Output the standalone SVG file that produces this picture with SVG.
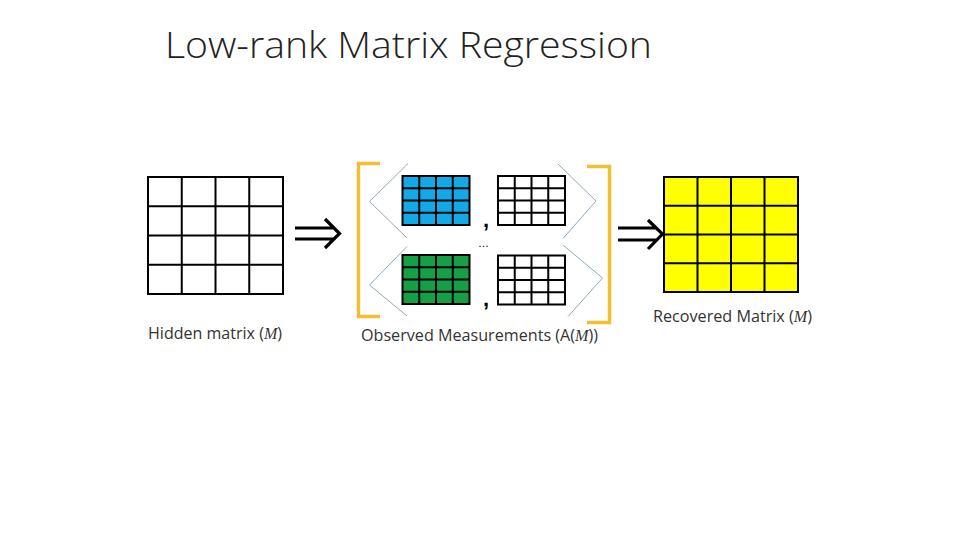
<svg xmlns="http://www.w3.org/2000/svg" xmlns:xlink="http://www.w3.org/1999/xlink" width="960" height="540" viewBox="0 0 960 540">
<style>
.grid{fill:none;stroke:#000;stroke-width:2}
.lbl{font-family:"Open Sans","Liberation Sans",sans-serif;font-size:16px;fill:#333}
.title{font-family:"Open Sans","Liberation Sans",sans-serif;font-size:36px;fill:#222;font-weight:300}
.brk{fill:none;stroke:#F0C030;stroke-width:3.5}
.ang{fill:none;stroke:#8FA8BF;stroke-width:1}
.arr{fill:none;stroke:#000;stroke-width:3.2}
.sym{font-family:"Liberation Sans",sans-serif;fill:#000}
</style>
<defs>
<path id="small" d="M0,0H67V49H0Z M16.75,0V49 M33.5,0V49 M50.25,0V49 M0,12.25H67 M0,24.5H67 M0,36.75H67"/>
</defs>
<rect width="960" height="540" fill="#fff"/>
<text class="title" x="165" y="58" textLength="487" lengthAdjust="spacingAndGlyphs">Low-rank Matrix Regression</text>

<g id="hidden">
<path class="grid" d="M148,177H283V294H148Z M181.75,177V294 M215.5,177V294 M249.25,177V294 M148,206.25H283 M148,235.5H283 M148,264.75H283"/>
<text class="lbl" x="148" y="339" textLength="134" lengthAdjust="spacingAndGlyphs">Hidden matrix (<tspan font-style="italic" font-family="Liberation Serif,serif">M</tspan>)</text>
</g>

<g id="observed">
<path class="brk" d="M380,163.5H358.5V316.5H380"/>
<path class="brk" d="M587,166.5H609.5V322.5H587"/>
<path class="ang" d="M408,163.5L369.5,201.5L407,238"/>
<path class="ang" d="M407,246.5L369.5,285L407,316"/>
<path class="ang" d="M558,164L596,201L563,238.5"/>
<path class="ang" d="M563,245L602.5,278L568,316.5"/>
<rect x="402.5" y="176" width="67" height="49" fill="#12AAE6"/>
<use xlink:href="#small" class="grid" x="402.5" y="176"/>
<rect x="402.5" y="255" width="67" height="49" fill="#16A046"/>
<use xlink:href="#small" class="grid" x="402.5" y="255"/>
<use xlink:href="#small" class="grid" x="498" y="176"/>
<use xlink:href="#small" class="grid" x="498" y="255.5"/>
<text class="sym" x="483" y="227" font-size="22" font-weight="bold">,</text>
<text class="sym" x="483" y="306" font-size="22" font-weight="bold">,</text>
<text class="sym" x="478" y="247" font-size="11" fill="#444">…</text>
<text class="lbl" x="361" y="341" textLength="237" lengthAdjust="spacingAndGlyphs">Observed Measurements (A(<tspan font-style="italic" font-family="Liberation Serif,serif">M</tspan>))</text>
</g>

<g id="recovered">
<rect x="664" y="177" width="134" height="115" fill="#FFFF00"/>
<path class="grid" d="M664,177H798V292H664Z M697.5,177V292 M731,177V292 M764.5,177V292 M664,205.75H798 M664,234.5H798 M664,263.25H798"/>
<text class="lbl" x="653" y="322" textLength="159" lengthAdjust="spacingAndGlyphs">Recovered Matrix (<tspan font-style="italic" font-family="Liberation Serif,serif">M</tspan>)</text>
</g>

<g id="connectors">
<path class="arr" d="M295,228H334 M295,239H334 M325,219L339.5,233.5L325,248"/>
<path class="arr" d="M618,228H657 M618,240H657 M648,220L662.5,234L648,249"/>
</g>
</svg>
